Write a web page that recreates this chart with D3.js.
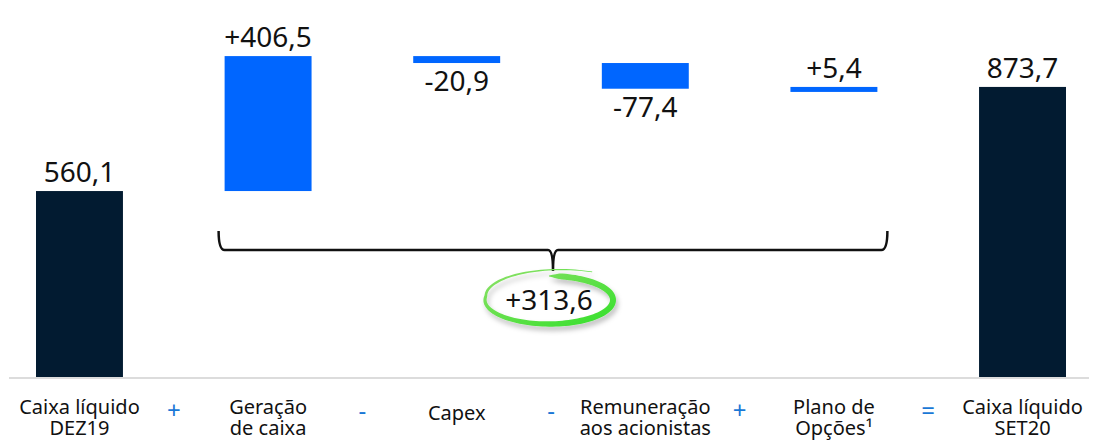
<!DOCTYPE html>
<html>
<head>
<meta charset="utf-8">
<script src="https://cdn.jsdelivr.net/npm/d3@7"></script>
<style>
  body { margin: 0; background: #fff; }
  svg { display: block; font-family: "Noto Sans", sans-serif; }
</style>
</head>
<body>
<div id="chart"></div>
<script>
// Chart data
const categories = ['Caixa líquido DEZ19', 'Geração de caixa', 'Capex', 'Remuneração aos acionistas', 'Plano de Opções¹', 'Caixa líquido SET20'];
const labelLines = [['Caixa líquido', 'DEZ19'], ['Geração', 'de caixa'], ['Capex'], ['Remuneração', 'aos acionistas'], ['Plano de', 'Opções¹'], ['Caixa líquido', 'SET20']];
const values = [560.1, 406.5, -20.9, -77.4, 5.4, 873.7];
const kinds = ['total', 'delta', 'delta', 'delta', 'delta', 'total'];
const operators = ['+', '-', '-', '+', '='];
const valueLabels = ['560,1', '+406,5', '-20,9', '-77,4', '+5,4', '873,7'];
const netChange = 313.6;
const netLabel = '+313,6';

const width = 1097;
const height = 443;
const baseY = 377;

const svg = d3.select('#chart')
  .append('svg')
  .attr('width', width)
  .attr('height', height);

// Waterfall steps
let running = 0;
const steps = values.map((v, i) => {
  let start, end;
  if (kinds[i] === 'total') {
    start = 0; end = v; running = v;
  } else {
    start = running; end = running + v; running = end;
  }
  return { cat: categories[i], lines: labelLines[i], value: v, start, end, kind: kinds[i], label: valueLabels[i] };
});

const x = d3.scaleBand()
  .domain(categories)
  .range([36, 1066])
  .paddingInner(0.539)
  .paddingOuter(0);

const y = d3.scaleLinear()
  .domain([0, 1000])
  .range([baseY, 45]);

// Baseline
svg.append('line')
  .attr('x1', 9).attr('x2', 1089)
  .attr('y1', baseY + 1).attr('y2', baseY + 1)
  .attr('stroke', '#dcdcdc')
  .attr('stroke-width', 2);

// Bars
svg.selectAll('rect.bar')
  .data(steps)
  .join('rect')
  .attr('class', 'bar')
  .attr('x', d => x(d.cat))
  .attr('width', x.bandwidth())
  .attr('y', d => y(Math.max(d.start, d.end)))
  .attr('height', d => Math.max(5, Math.abs(y(d.start) - y(d.end))))
  .attr('fill', d => d.kind === 'total' ? '#021b31' : '#0066ff');

// Value labels
svg.selectAll('text.val')
  .data(steps)
  .join('text')
  .attr('class', 'val')
  .attr('x', d => x(d.cat) + x.bandwidth() / 2)
  .attr('y', d => d.value < 0 ? y(d.end) + 28 : y(Math.max(d.start, d.end)) - 9)
  .attr('text-anchor', 'middle')
  .attr('font-size', 28)
  .attr('fill', '#111')
  .text(d => d.label);

// Category labels (one text per category, lines as tspans)
svg.selectAll('text.cat')
  .data(steps)
  .join('text')
  .attr('class', 'cat')
  .attr('text-anchor', 'middle')
  .attr('font-size', 20)
  .attr('fill', '#111')
  .attr('y', d => d.lines.length === 1 ? 420 : 414)
  .each(function(d) {
    const t = d3.select(this);
    const cxp = x(d.cat) + x.bandwidth() / 2;
    d.lines.forEach((ln, j) => {
      t.append('tspan')
        .attr('x', cxp)
        .attr('dy', j === 0 ? 0 : 21)
        .text(ln);
    });
  });

// Operators between categories
svg.selectAll('text.op')
  .data(operators)
  .join('text')
  .attr('class', 'op')
  .attr('x', (d, i) => (x(categories[i]) + x(categories[i + 1]) + x.bandwidth()) / 2)
  .attr('y', 419)
  .attr('text-anchor', 'middle')
  .attr('font-size', 24)
  .attr('fill', '#1a78d6')
  .text(d => d);

// Brace over the delta bars
const bx0 = x(categories[1]) - 6;
const bx1 = x(categories[4]) + x.bandwidth() + 10;
const bmid = (bx0 + bx1) / 2;
const bTop = 231, bY = 250, bTip = 271;
const brace = d3.path();
brace.moveTo(bx0, bTop);
brace.quadraticCurveTo(bx0, bY, bx0 + 6, bY);
brace.lineTo(bmid - 5, bY);
brace.quadraticCurveTo(bmid, bY, bmid, bTip);
brace.quadraticCurveTo(bmid, bY, bmid + 5, bY);
brace.lineTo(bx1 - 6, bY);
brace.quadraticCurveTo(bx1, bY, bx1, bTop);
svg.append('path')
  .attr('d', brace.toString())
  .attr('fill', 'none')
  .attr('stroke', '#111')
  .attr('stroke-width', 2.5);

// Hand-drawn green circle around the net change
const defs = svg.append('defs');
const grad = defs.append('linearGradient')
  .attr('id', 'green-grad')
  .attr('x1', '0%').attr('y1', '0%').attr('x2', '100%').attr('y2', '100%');
grad.append('stop').attr('offset', '0%').attr('stop-color', '#8ee068');
grad.append('stop').attr('offset', '100%').attr('stop-color', '#33e02a');
const shadow = defs.append('filter').attr('id', 'soft-shadow')
  .attr('x', '-20%').attr('y', '-20%').attr('width', '140%').attr('height', '160%');
shadow.append('feDropShadow')
  .attr('dx', 2).attr('dy', 4).attr('stdDeviation', 2.5)
  .attr('flood-color', '#000').attr('flood-opacity', 0.25);

const cx = bmid - 4, cy = 300, rx = 64, ry = 24;
const outer = [], inner = [];
for (let a = -90; a <= 300; a += 3) {
  const t = a * Math.PI / 180;
  const k = a < 190 ? 1 : 1 + (a - 190) / 110 * 0.35;
  let w;
  if (a < -80) w = 1 + (a + 90) * 0.5;
  else if (a < 60) w = 6;
  else if (a < 190) w = 6 - (a - 60) / 130 * 3;
  else w = 3 - (a - 190) / 110 * 2.3;
  const px = cx + rx * k * Math.cos(t);
  const py = cy + ry * k * Math.sin(t);
  const nx = Math.cos(t) / rx, ny = Math.sin(t) / ry;
  const nl = Math.hypot(nx, ny);
  outer.push([px + nx / nl * w / 2, py + ny / nl * w / 2]);
  inner.push([px - nx / nl * w / 2, py - ny / nl * w / 2]);
}
const ringPts = outer.concat(inner.reverse());
svg.append('path')
  .attr('d', d3.line().curve(d3.curveLinearClosed)(ringPts))
  .attr('fill', 'url(#green-grad)')
  .attr('filter', 'url(#soft-shadow)');

svg.append('text')
  .attr('x', cx)
  .attr('y', cy + 10)
  .attr('text-anchor', 'middle')
  .attr('font-size', 28)
  .attr('fill', '#111')
  .datum(netChange)
  .text(netLabel);
</script>
</body>
</html>
